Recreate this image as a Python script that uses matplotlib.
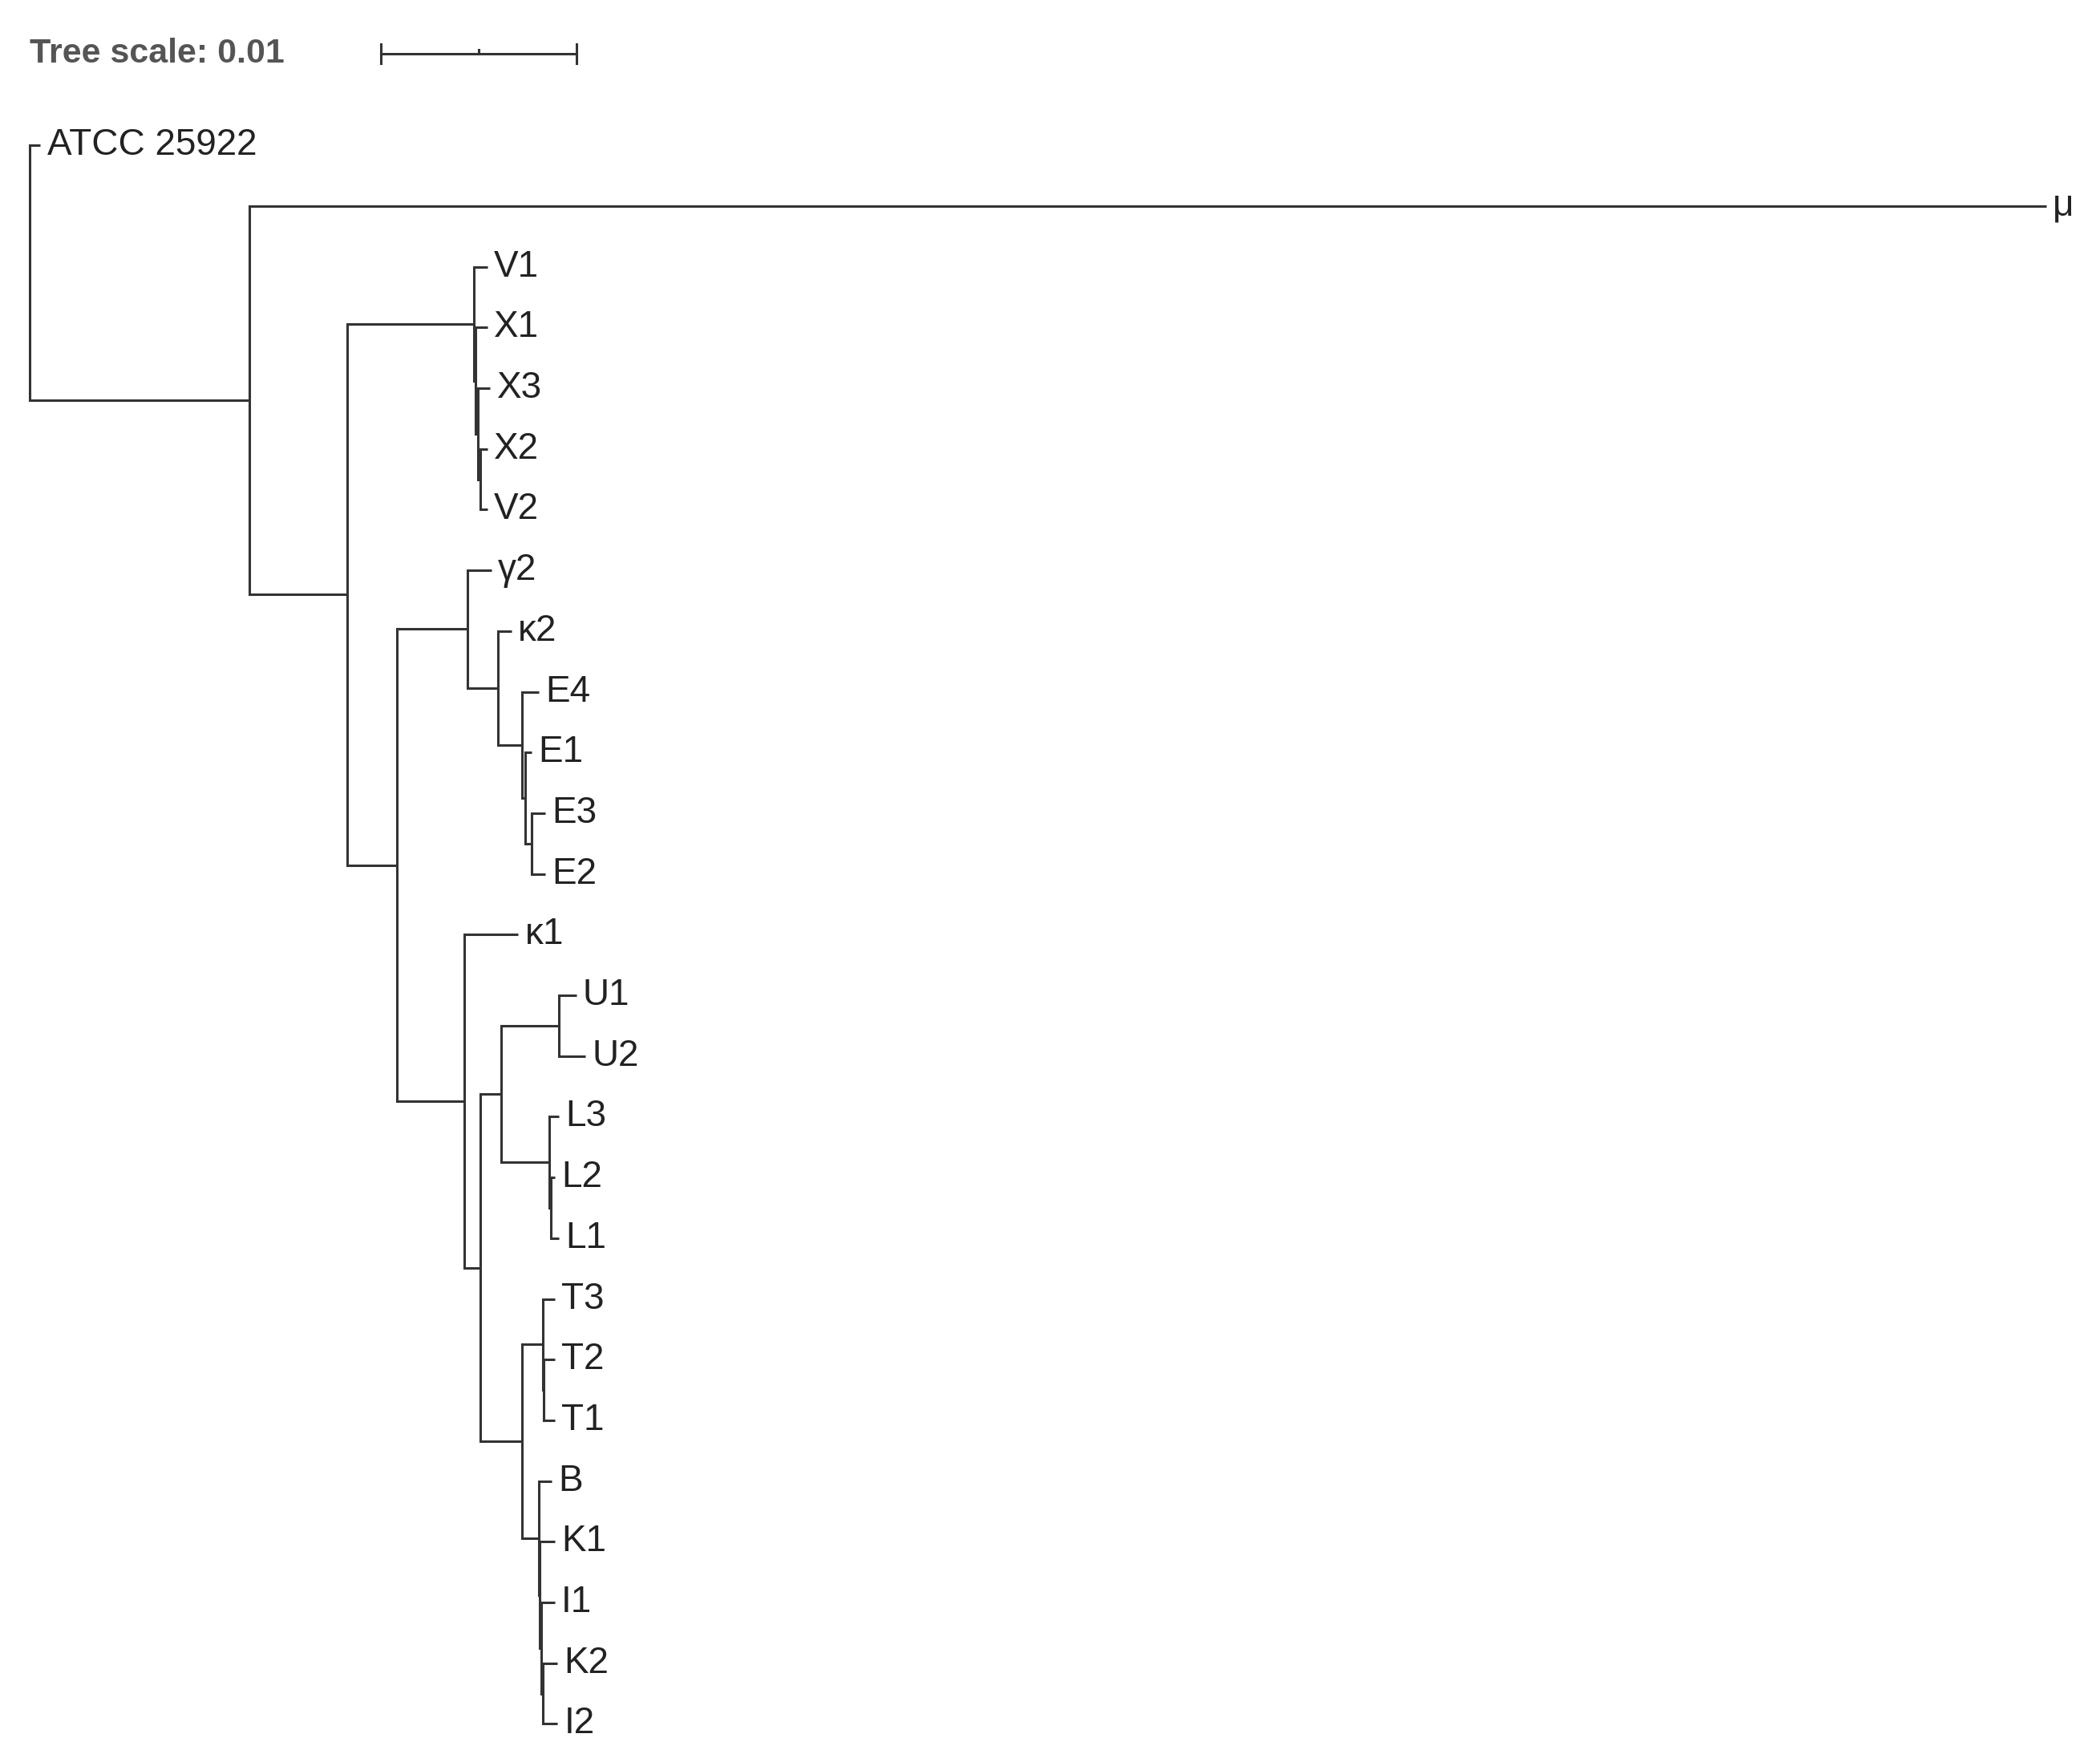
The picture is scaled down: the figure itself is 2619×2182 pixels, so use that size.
import matplotlib
matplotlib.use("Agg")
import matplotlib.pyplot as plt

PX = 14500.0  # display px per unit distance
# tree: leaf = (name, depth) ; internal = (depth, [children]); depths in px
tree = (0, [("ATCC 25922", 8),
  (163, [("μ", 1498),
    (236, [
      (330, [("V1", 340), (331, [("X1", 340), (333, [("X3", 342), (335, [("X2", 340), ("V2", 340)])])])]),
      (273, [
        (325, [("γ2", 343), (348, [("κ2", 358), (366, [("E4", 378), (368, [("E1", 373), (373, [("E3", 383), ("E2", 383)])])])])]),
        (323, [("κ1", 363),
          (335, [
            (350, [(393, [("U1", 406), ("U2", 413)]),
                   (386, [("L3", 393), (387, [("L2", 390), ("L1", 393)])])]),
            (366, [(381, [("T3", 390), (382, [("T2", 390), ("T1", 390)])]),
                   (378, [("B", 388), (379, [("K1", 390), (380, [("I1", 390), (381, [("K2", 392), ("I2", 392)])])])])])
          ])])
      ])])])])

fig = plt.figure(figsize=(26.19, 21.82), dpi=100)
ax = fig.add_axes([0, 0, 1, 1])
ax.set_xlim(-22 / PX, 1538 / PX)
ax.set_ylim(1300, 0)
ax.axis("off")
lw = 2.2
counter = [0]

def draw(node, pdepth):
    if isinstance(node[0], str):
        name, d = node
        y = 108 + 45.1 * counter[0]
        counter[0] += 1
        x = d / PX
        ax.plot([pdepth, x], [y, y], color="#333", lw=lw, solid_capstyle="butt")
        ax.text(x + 5 / PX, y, name, fontsize=33, family="Liberation Sans", va="center", ha="left", color="#222")
        return y
    d, kids = node
    x = d / PX
    ys = [draw(k, x) for k in kids]
    y = (ys[0] + ys[-1]) / 2
    ax.plot([x, x], [ys[0], ys[-1]], color="#333", lw=lw, solid_capstyle="projecting")
    if pdepth is not None:
        ax.plot([pdepth, x], [y, y], color="#333", lw=lw, solid_capstyle="butt")
    return y

draw(tree, None)

# scale bar
scale = 0.01
x0 = (283 - 22) / PX
ax.text(0, 40, "Tree scale: 0.01", fontsize=31, family="Liberation Sans", fontweight="bold",
        color="#555", va="center", ha="left")
ax.plot([x0, x0 + scale], [40, 40], color="#333", lw=lw)
for xx, h in [(x0, 7), (x0 + scale, 7), (x0 + scale / 2, 3)]:
    ax.plot([xx, xx], [40 - h, 40 + (h if h > 3 else 0)], color="#333", lw=lw)

fig.savefig("out.png", dpi=100, facecolor="white")
